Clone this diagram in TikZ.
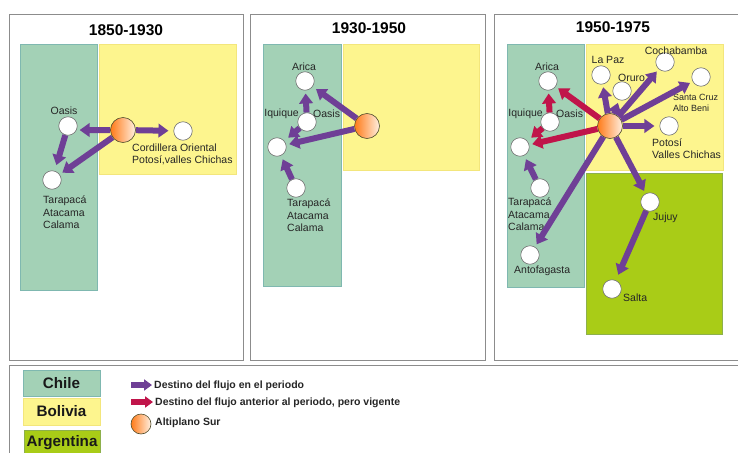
\documentclass[tikz,border=0pt]{standalone}
\usepackage{fontspec}
\setmainfont{Liberation Sans}
\usetikzlibrary{arrows.meta}
\definecolor{chilecol}{HTML}{A3D1B6}
\definecolor{chileline}{HTML}{7FB8B0}
\definecolor{boliviacol}{HTML}{FDF58E}
\definecolor{bolivialine}{HTML}{F3E67C}
\definecolor{argcol}{HTML}{A9CC17}
\definecolor{argline}{HTML}{8DB04C}
\definecolor{flowcol}{HTML}{6F3F96}
\definecolor{oldcol}{HTML}{C0144A}
\begin{document}
\begin{tikzpicture}[x=1pt, y=-1pt, font=\fontsize{10.5}{12.4}\selectfont,
panel/.style={draw=black!45, line width=1pt, fill=white},
chile/.style={draw=chileline, fill=chilecol, line width=0.5pt},
bolivia/.style={draw=bolivialine, fill=boliviacol, line width=0.5pt},
argentina/.style={draw=argline, fill=argcol, line width=0.5pt},
place/.style={circle, draw=black!55, fill=white, line width=0.6pt, minimum size=18.5pt, inner sep=0pt},
source/.style={circle, draw=black!55!olive, left color=orange!85!red!90!white, right color=orange!12!white, line width=0.6pt, minimum size=25pt, inner sep=0pt},
flow/.style={-{Triangle[length=10pt,width=13.5pt]}, flowcol, line width=6pt, shorten >=3pt},
flowold/.style={flow, oldcol},
label/.style={align=left, anchor=north west, inner sep=0pt, text=black!85},
title/.style={font=\fontsize{15.5}{18}\selectfont\bfseries},
legend/.style={font=\fontsize{10.5}{12}\selectfont\bfseries, anchor=west, inner sep=0pt, text=black!85},
country/.style={font=\fontsize{15.2}{18}\selectfont\bfseries, text=black!90},
]
 \useasboundingbox (0,0) rectangle (738,452);

 % panels
 \draw[panel] (9,15) rectangle (243,360);
 \draw[panel] (250,15) rectangle (485,360);
 \draw[panel] (494,15) rectangle (745,360);
 \draw[panel] (9,365) rectangle (745,460);

 \node[title] (titleA) at (126,30) {1850-1930};
 \node[title] (titleB) at (369,28) {1930-1950};
 \node[title] (titleC) at (613,27) {1950-1975};

 % regions
 \draw[chile] (20,44) rectangle (97,290);
 \draw[bolivia] (99,44) rectangle (236,174);
 \draw[chile] (263,44) rectangle (341,286);
 \draw[bolivia] (343,44) rectangle (479,170);
 \draw[chile] (507,44) rectangle (584,287);
 \draw[bolivia] (586,44) rectangle (723,170);
 \draw[argentina] (586,173) rectangle (722,334);

 % 1850-1930
 \node[source] (altA) at (123,130) {};
 \node[place] (oasisA) at (68,126) {};
 \node[place] (cordA) at (183,131) {};
 \node[place] (tarapA) at (52,180) {};
 \node[label, anchor=south] (oasisAtxt) at (64,115) {Oasis};
 \node[label] (cordAtxt) at (132,143.5) {Cordillera Oriental\\Potosí,valles Chichas};
 \node[label] (tarapAtxt) at (43,196) {Tarapacá\\Atacama\\Calama};

 \draw[flow] (altA) -- (oasisA.-25);
 \draw[flow, shorten >=5pt] (altA) -- (cordA);
 \draw[flow] (altA) -- (tarapA);
 \draw[flow, shorten >=6pt] (oasisA) -- (tarapA);

 % 1930-1950
 \node[source] (altB) at (367,126) {};
 \node[place] (aricaB) at (305,81) {};
 \node[place] (oasisB) at (307,122) {};
 \node[place] (iquiB) at (277,147) {};
 \node[place] (tarapB) at (296,188) {};
 \node[label, anchor=south] (aricaBtxt) at (304,71) {Arica};
 \node[label, anchor=east] (iquiBtxt) at (299,114) {Iquique};
 \node[label, anchor=west] (oasisBtxt) at (313,114) {Oasis};
 \node[label] (tarapBtxt) at (287,199) {Tarapacá\\Atacama\\Calama};

 \draw[flow, shorten >=4pt] (altB) -- (aricaB);
 \draw[flow] (altB) -- (iquiB);
 \draw[flow] (oasisB) -- (aricaB);
 \draw[flow, shorten >=5pt] (oasisB) -- (iquiB);
 \draw[flow, shorten >=4pt] (tarapB) -- (iquiB);

 % 1950-1975
 \node[source] (altC) at (610,126) {};
 \node[place] (aricaC) at (548,81) {};
 \node[place] (oasisC) at (550,122) {};
 \node[place] (iquiC) at (520,147) {};
 \node[place] (tarapC) at (540,188) {};
 \node[place] (antoC) at (530,255) {};
 \node[place] (lapazC) at (601,75) {};
 \node[place] (oruroC) at (622,91) {};
 \node[place] (cochaC) at (665,62) {};
 \node[place] (santaC) at (701,77) {};
 \node[place] (potosiC) at (669,126) {};
 \node[place] (jujuyC) at (650,202) {};
 \node[place] (saltaC) at (612,289) {};
 \node[label, anchor=south] (aricaCtxt) at (547,71) {Arica};
 \node[label, anchor=east] (iquiCtxt) at (543,114) {Iquique};
 \node[label, anchor=west] (oasisCtxt) at (556,114) {Oasis};
 \node[label] (tarapCtxt) at (508,198) {Tarapacá\\Atacama\\Calama};
 \node[label] (antoCtxt) at (514,265.5) {Antofagasta};
 \node[label, anchor=south] (lapazCtxt) at (608,64) {La Paz};
 \node[label] (oruroCtxt) at (618,74) {Oruro};
 \node[label, anchor=south] (cochaCtxt) at (676,55) {Cochabamba};
 \node[label, font=\fontsize{9}{11}\selectfont] (santaCtxt) at (673,94.5) {Santa Cruz\\Alto Beni};
 \node[label] (potosiCtxt) at (652,138.5) {Potosí\\Valles Chichas};
 \node[label] (jujuyCtxt) at (653,213) {Jujuy};
 \node[label] (saltaCtxt) at (623,294) {Salta};

 \draw[flowold] (altC) -- (aricaC);
 \draw[flowold] (altC) -- (iquiC);
 \draw[flowold] (oasisC) -- (aricaC);
 \draw[flowold, shorten >=5pt] (oasisC) -- (iquiC);
 \draw[flow, shorten >=4pt] (tarapC) -- (iquiC);
 \draw[flow] (altC) -- (antoC);
 \draw[flow] (altC) -- (lapazC);
 \draw[flow] (altC) -- (oruroC);
 \draw[flow] (altC) -- (cochaC);
 \draw[flow] (altC) -- (santaC);
 \draw[flow, shorten >=5pt] (altC) -- (potosiC);
 \draw[flow] (altC) -- (jujuyC);
 \draw[flow, shorten >=6pt] (jujuyC) -- (saltaC);

 % legend
 \node[country, chile, minimum width=77pt, minimum height=26pt, inner sep=0pt] (chileleg) at (61.5,383) {Chile};
 \node[country, bolivia, minimum width=77pt, minimum height=27pt, inner sep=0pt] (bolivialeg) at (61.5,411.5) {Bolivia};
 \node[country, argentina, minimum width=76pt, minimum height=26pt, inner sep=0pt] (argleg) at (62,443) {Argentina};

 \node[coordinate] (flowstart) at (131,385) {};
 \node[coordinate] (flowend) at (152,385) {};
 \node[coordinate] (oldstart) at (131,402) {};
 \node[coordinate] (oldend) at (153,402) {};
 \draw[flow, shorten >=0pt, -{Triangle[length=8pt,width=11pt]}] (flowstart) -- (flowend);
 \draw[flowold, shorten >=0pt, -{Triangle[length=8pt,width=11pt]}] (oldstart) -- (oldend);
 \node[source, minimum size=20pt] (altleg) at (141,424) {};
 \node[legend] (flowtxt) at (154,386) {Destino del flujo en el periodo};
 \node[legend] (oldtxt) at (155,403) {Destino del flujo anterior al periodo, pero vigente};
 \node[legend] (alttxt) at (155,423) {Altiplano Sur};
 \end{tikzpicture}
\end{document}
